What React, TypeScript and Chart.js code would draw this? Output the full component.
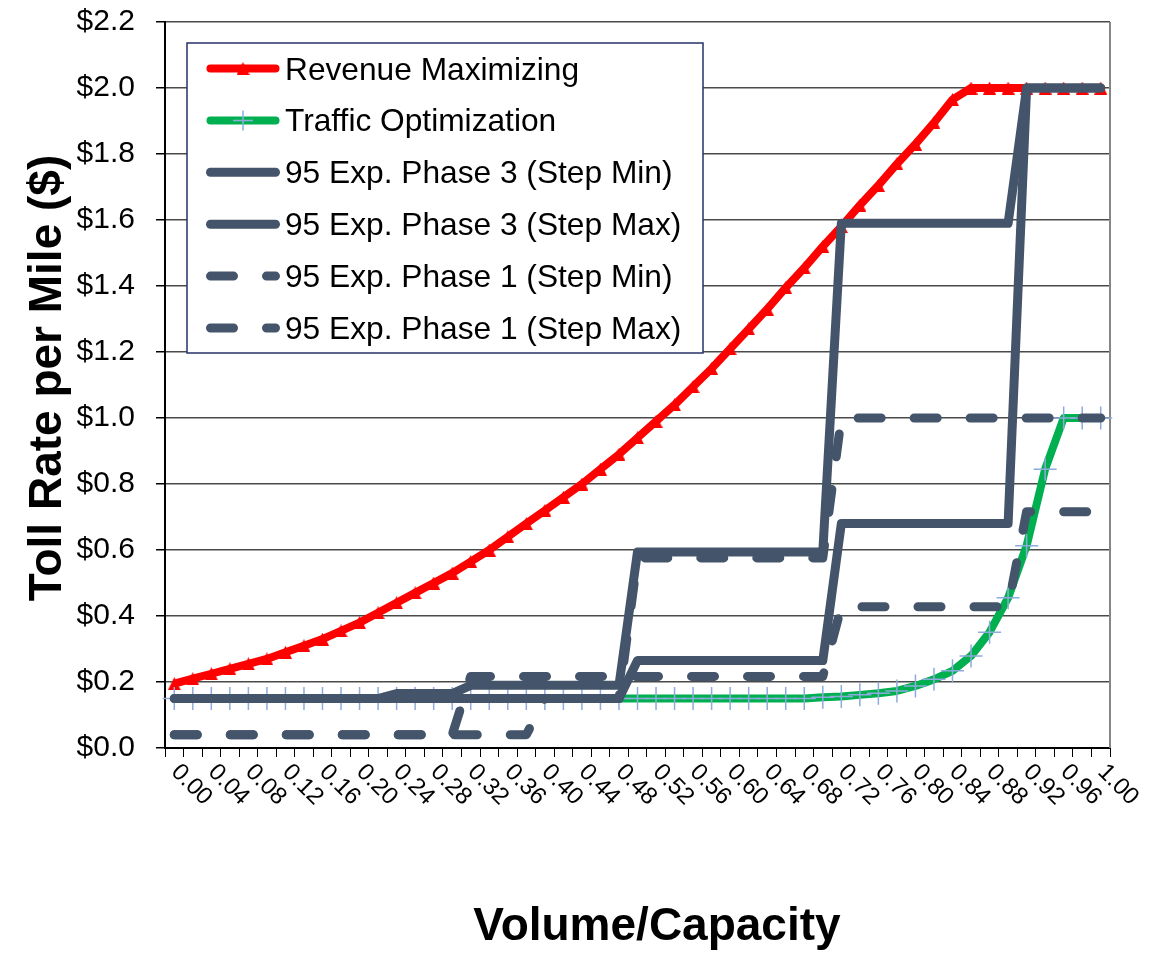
import React, { useEffect, useRef } from 'react';
import { Chart, registerables } from 'chart.js';

Chart.register(...registerables);

const categories = [
  '0.00', '0.02', '0.04', '0.06', '0.08', '0.10', '0.12', '0.14', '0.16', '0.18',
  '0.20', '0.22', '0.24', '0.26', '0.28', '0.30', '0.32', '0.34', '0.36', '0.38',
  '0.40', '0.42', '0.44', '0.46', '0.48', '0.50', '0.52', '0.54', '0.56', '0.58',
  '0.60', '0.62', '0.64', '0.66', '0.68', '0.70', '0.72', '0.74', '0.76', '0.78',
  '0.80', '0.82', '0.84', '0.86', '0.88', '0.90', '0.92', '0.94', '0.96', '0.98',
  '1.00',
];

const xTickLabels = [
  '0.00', '0.04', '0.08', '0.12', '0.16', '0.20', '0.24', '0.28', '0.32', '0.36',
  '0.40', '0.44', '0.48', '0.52', '0.56', '0.60', '0.64', '0.68', '0.72', '0.76',
  '0.80', '0.84', '0.88', '0.92', '0.96', '1.00',
];

const seriesNames = [
  'Revenue Maximizing',
  'Traffic Optimization',
  '95 Exp. Phase 3 (Step Min)',
  '95 Exp. Phase 3 (Step Max)',
  '95 Exp. Phase 1 (Step Min)',
  '95 Exp. Phase 1 (Step Max)',
];

const revenueMaximizing = [
  0.195, 0.21, 0.225, 0.24, 0.255, 0.27, 0.29, 0.31, 0.33, 0.355,
  0.38, 0.41, 0.44, 0.47, 0.5, 0.53, 0.565, 0.6, 0.64, 0.68,
  0.72, 0.76, 0.8, 0.845, 0.89, 0.94, 0.99, 1.04, 1.095, 1.15,
  1.21, 1.27, 1.33, 1.395, 1.455, 1.52, 1.58, 1.645, 1.705, 1.77,
  1.83, 1.895, 1.965, 2.0, 2.0, 2.0, 2.0, 2.0, 2.0, 2.0,
  2.0,
];

const trafficOptimization = [
  0.15, 0.15, 0.15, 0.15, 0.15, 0.15, 0.15, 0.15, 0.15, 0.15,
  0.15, 0.15, 0.15, 0.15, 0.15, 0.15, 0.15, 0.15, 0.15, 0.15,
  0.15, 0.15, 0.15, 0.15, 0.15, 0.15, 0.15, 0.15, 0.15, 0.15,
  0.15, 0.15, 0.15, 0.15, 0.15, 0.154, 0.156, 0.161, 0.166, 0.173,
  0.188, 0.208, 0.234, 0.279, 0.351, 0.455, 0.613, 0.845, 1.0, 1.0,
  1.0,
];

const phase3StepMin = [
  0.15, 0.15, 0.15, 0.15, 0.15, 0.15, 0.15, 0.15, 0.15, 0.15,
  0.15, 0.15, 0.15, 0.15, 0.15, 0.15, 0.15, 0.15, 0.15, 0.15,
  0.15, 0.15, 0.15, 0.15, 0.15, 0.265, 0.265, 0.265, 0.265, 0.265,
  0.265, 0.265, 0.265, 0.265, 0.265, 0.265, 0.68, 0.68, 0.68, 0.68,
  0.68, 0.68, 0.68, 0.68, 0.68, 0.68, 2.0, 2.0, 2.0, 2.0,
  2.0,
];

const phase3StepMax = [
  0.15, 0.15, 0.15, 0.15, 0.15, 0.15, 0.15, 0.15, 0.15, 0.15,
  0.15, 0.15, 0.165, 0.165, 0.165, 0.165, 0.19, 0.19, 0.19, 0.19,
  0.19, 0.19, 0.19, 0.19, 0.19, 0.594, 0.594, 0.594, 0.594, 0.594,
  0.594, 0.594, 0.594, 0.594, 0.594, 0.594, 1.59, 1.59, 1.59, 1.59,
  1.59, 1.59, 1.59, 1.59, 1.59, 1.59, 2.0, 2.0, 2.0, 2.0,
  2.0,
];

const phase1StepMin = [
  0.04, 0.04, 0.04, 0.04, 0.04, 0.04, 0.04, 0.04, 0.04, 0.04,
  0.04, 0.04, 0.04, 0.04, 0.04, 0.04, 0.04, 0.04, 0.04, 0.04,
  0.15, 0.15, 0.15, 0.15, 0.15, 0.576, 0.576, 0.576, 0.576, 0.576,
  0.576, 0.576, 0.576, 0.576, 0.576, 0.576, 1.0, 1.0, 1.0, 1.0,
  1.0, 1.0, 1.0, 1.0, 1.0, 1.0, 1.0, 1.0, 1.0, 1.0,
  1.0,
];

const phase1StepMax = [
  0.04, 0.04, 0.04, 0.04, 0.04, 0.04, 0.04, 0.04, 0.04, 0.04,
  0.04, 0.04, 0.04, 0.04, 0.04, 0.04, 0.217, 0.217, 0.217, 0.217,
  0.217, 0.217, 0.217, 0.217, 0.217, 0.217, 0.217, 0.217, 0.217, 0.217,
  0.217, 0.217, 0.217, 0.217, 0.217, 0.217, 0.428, 0.428, 0.428, 0.428,
  0.428, 0.428, 0.428, 0.428, 0.428, 0.428, 0.716, 0.716, 0.716, 0.716,
  0.716,
];

const RED = '#FF0000';
const GREEN = '#00B050';
const DARK = '#44546A';
const CROSS = '#8FAADC';
const FONT = '"Liberation Sans", Arial, sans-serif';
const DASH = [23, 33];

function makeTriangle(): HTMLCanvasElement {
  const c = document.createElement('canvas');
  c.width = 13;
  c.height = 13;
  const g = c.getContext('2d')!;
  g.fillStyle = RED;
  g.beginPath();
  g.moveTo(6.5, 0);
  g.lineTo(13, 13);
  g.lineTo(0, 13);
  g.closePath();
  g.fill();
  return c;
}

export default function App() {
  const canvasRef = useRef<HTMLCanvasElement | null>(null);

  useEffect(() => {
    const canvas = canvasRef.current;
    if (!canvas) return;
    const tri = makeTriangle();

    const decor = {
      id: 'decor',
      beforeDatasetsDraw(chart: any) {
        const { ctx, chartArea: a } = chart;
        ctx.save();
        ctx.strokeStyle = '#868686';
        ctx.lineWidth = 2;
        ctx.beginPath();
        ctx.moveTo(a.right, a.top);
        ctx.lineTo(a.right, a.bottom);
        ctx.stroke();
        ctx.restore();
      },
      afterDatasetsDraw(chart: any) {
        const { ctx } = chart;
        ctx.save();
        ctx.fillStyle = '#FFFFFF';
        ctx.fillRect(187, 43, 516, 310);
        ctx.strokeStyle = '#25326B';
        ctx.lineWidth = 1.5;
        ctx.strokeRect(187, 43, 516, 310);
        const rowY = [68.5, 120.4, 172.3, 224.2, 276.1, 328];
        const styles = [
          { color: RED, width: 8, dash: [] as number[], marker: 'tri' },
          { color: GREEN, width: 8, dash: [] as number[], marker: 'cross' },
          { color: DARK, width: 9, dash: [] as number[], marker: '' },
          { color: DARK, width: 9, dash: [] as number[], marker: '' },
          { color: DARK, width: 9, dash: DASH, marker: '' },
          { color: DARK, width: 9, dash: DASH, marker: '' },
        ];
        seriesNames.forEach((name, i) => {
          const y = rowY[i];
          const s = styles[i];
          ctx.save();
          ctx.strokeStyle = s.color;
          ctx.lineWidth = s.width;
          ctx.lineCap = 'round';
          ctx.setLineDash(s.dash);
          ctx.beginPath();
          ctx.moveTo(210.5, y);
          ctx.lineTo(275.5, y);
          ctx.stroke();
          ctx.restore();
          if (s.marker === 'tri') {
            ctx.drawImage(tri, 243 - tri.width / 2, y - tri.height / 2);
          } else if (s.marker === 'cross') {
            ctx.save();
            ctx.strokeStyle = CROSS;
            ctx.lineWidth = 1.5;
            ctx.beginPath();
            ctx.moveTo(233, y);
            ctx.lineTo(253, y);
            ctx.moveTo(243, y - 10);
            ctx.lineTo(243, y + 10);
            ctx.stroke();
            ctx.restore();
          }
          ctx.fillStyle = '#000';
          ctx.font = `31.7px ${FONT}`;
          ctx.textAlign = 'left';
          ctx.textBaseline = 'alphabetic';
          ctx.fillText(name, 285, y + 11);
        });
        ctx.restore();
      },
      afterDraw(chart: any) {
        const { ctx, chartArea: a, scales } = chart;
        const xs = scales.x;
        ctx.save();
        ctx.fillStyle = '#000';
        ctx.font = `24px ${FONT}`;
        ctx.textAlign = 'left';
        ctx.textBaseline = 'alphabetic';
        categories.forEach((c, i) => {
          if (!xTickLabels.includes(c)) return;
          const px = xs.getPixelForValue(i);
          ctx.save();
          ctx.translate(px - 4, a.bottom + 25);
          ctx.rotate(Math.PI / 4);
          ctx.fillText(c, 0, 0);
          ctx.restore();
        });
        ctx.font = `bold 46px ${FONT}`;
        ctx.textAlign = 'center';
        ctx.fillText('Volume/Capacity', 657, 940);
        ctx.save();
        ctx.translate(61, 378);
        ctx.rotate(-Math.PI / 2);
        ctx.fillText('Toll Rate per Mile ($)', 0, 0);
        ctx.restore();
        ctx.restore();
      },
    };

    const darkBase = {
      borderColor: DARK,
      backgroundColor: DARK,
      borderWidth: 9,
      pointRadius: 0,
      borderCapStyle: 'round' as const,
      borderJoinStyle: 'round' as const,
      fill: false,
    };

    const chart = new Chart(canvas, {
      type: 'line',
      data: {
        labels: categories,
        datasets: [
          {
            label: seriesNames[0],
            data: revenueMaximizing,
            borderColor: RED,
            backgroundColor: RED,
            borderWidth: 8,
            borderJoinStyle: 'round',
            pointStyle: tri as any,
            pointRadius: 6,
            order: 6,
            fill: false,
          },
          {
            label: seriesNames[1],
            data: trafficOptimization,
            borderColor: GREEN,
            backgroundColor: GREEN,
            borderWidth: 8,
            borderJoinStyle: 'round',
            pointStyle: 'cross',
            pointRadius: 11.5,
            pointBorderColor: CROSS,
            pointBorderWidth: 1.5,
            order: 5,
            fill: false,
          },
          { ...darkBase, label: seriesNames[2], data: phase3StepMin, order: 4 },
          { ...darkBase, label: seriesNames[3], data: phase3StepMax, order: 3 },
          { ...darkBase, label: seriesNames[4], data: phase1StepMin, borderDash: DASH, order: 2 },
          { ...darkBase, label: seriesNames[5], data: phase1StepMax, borderDash: DASH, order: 1 },
        ] as any,
      },
      options: {
        responsive: false,
        animation: false,
        events: [],
        layout: { padding: { left: 0, right: 40, top: 22, bottom: 0 } },
        elements: { line: { tension: 0 } },
        plugins: {
          legend: { display: false },
          tooltip: { enabled: false },
          title: { display: false },
        },
        scales: {
          x: {
            type: 'category',
            offset: true,
            grid: {
              display: true,
              drawOnChartArea: false,
              drawTicks: true,
              tickLength: 9,
              offset: true,
              color: '#000',
              tickColor: '#000',
              lineWidth: 1,
            },
            border: { display: true, color: '#000', width: 2 },
            ticks: { display: false, autoSkip: false },
            afterFit: (s: any) => {
              s.height = 205;
              s.paddingLeft = 0;
              s.paddingRight = 0;
            },
          },
          y: {
            min: 0,
            max: 2.2,
            ticks: {
              stepSize: 0.2,
              color: '#000',
              padding: 21,
              font: { family: FONT, size: 30 },
              callback: (v: any) => '$' + Number(v).toFixed(1),
            },
            grid: {
              color: '#4a4a4a',
              lineWidth: 1.5,
              drawTicks: true,
              tickLength: 9,
              tickColor: '#000',
            },
            border: { display: true, color: '#000', width: 2 },
            afterFit: (s: any) => {
              s.width = 165;
              s.paddingTop = 0;
              s.paddingBottom = 0;
            },
          },
        } as any,
      },
      plugins: [decor],
    });

    return () => {
      chart.destroy();
    };
  }, []);

  return (
    <div style={{ position: 'fixed', left: 0, top: 0, width: 1150, height: 953, background: '#fff' }}>
      <canvas ref={canvasRef} width={1150} height={953} style={{ display: 'block' }} />
    </div>
  );
}
